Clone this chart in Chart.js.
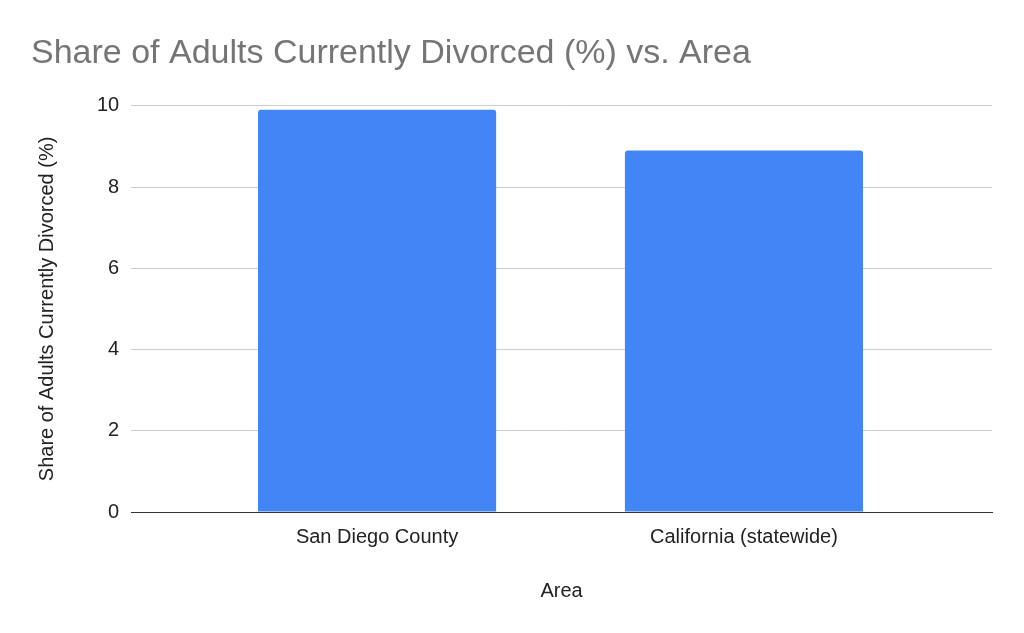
<!DOCTYPE html>
<html>
<head>
<meta charset="utf-8">
<script src="https://cdn.jsdelivr.net/npm/chart.js@4/dist/chart.umd.min.js"></script>
<style>
  html, body { margin: 0; padding: 0; background: #fff; }
  #wrap { width: 1024px; height: 633px; }
</style>
</head>
<body>
<div id="wrap"><canvas id="myChart" width="1024" height="633"></canvas></div>
<script>
const areas = ['San Diego County', 'California (statewide)']
const divorced = [9.9, 8.9]
const yTicks = [0, 2, 4, 6, 8, 10]

const fontFam = '"Liberation Sans", Arial, sans-serif'

const data = {
  labels: areas,
  datasets: [{
    label: 'Share of Adults Currently Divorced (%)',
    data: divorced,
    backgroundColor: '#4285f4',
    borderRadius: { topLeft: 3, topRight: 3 },
    borderSkipped: 'bottom',
    barPercentage: 0.649,
    categoryPercentage: 1
  }]
}

const config = {
  type: 'bar',
  data: data,
  options: {
    responsive: false,
    animation: false,
    layout: { padding: { left: 31, right: 32, top: 0, bottom: 26 } },
    plugins: {
      legend: { display: false },
      tooltip: { enabled: false },
      title: {
        display: true,
        text: 'Share of Adults Currently Divorced (%) vs. Area',
        align: 'start',
        color: '#757575',
        font: { family: fontFam, size: 34, weight: 'normal' },
        padding: { top: 33, bottom: 32 }
      }
    },
    scales: {
      x: {
        grid: { display: false },
        border: { color: '#333', width: 1 },
        ticks: { color: '#222', font: { family: fontFam, size: 20 }, padding: 5 },
        title: {
          display: true, text: 'Area', color: '#222',
          font: { family: fontFam, size: 20 }, padding: { top: 25 }
        },
        // google-style outer padding: wider range than the plain category offset
        afterFit: axis => { axis._startValue = -0.67; axis._valueRange = 2.346 }
      },
      y: {
        min: 0, max: 10,
        afterBuildTicks: axis => { axis.ticks = yTicks.map(v => ({ value: v })) },
        grid: { color: '#cccccc', drawTicks: false },
        border: { display: false },
        ticks: { color: '#222', font: { family: fontFam, size: 20 }, padding: 12 },
        title: {
          display: true, text: 'Share of Adults Currently Divorced (%)', color: '#222',
          font: { family: fontFam, size: 20 }, padding: { bottom: 26 }
        }
      }
    }
  }
}

const myChart = new Chart(document.getElementById('myChart'), config)
</script>
</body>
</html>
